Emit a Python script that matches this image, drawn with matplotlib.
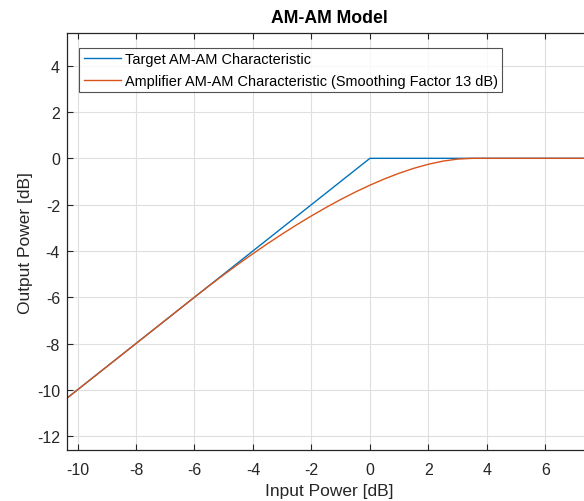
import matplotlib
matplotlib.use("Agg")
import matplotlib.pyplot as plt

# Target AM-AM characteristic (hard limiter at 0 dB)
target_in = [-10.5, 0.0, 8.0]
target_out = [-10.5, 0.0, 0.0]

# Amplifier AM-AM characteristic
amp_in = [-10.5, -6.0, -5.5, -5.0, -4.5, -4.0, -3.5, -3.0, -2.5, -2.0, -1.5,
          -1.0, -0.5, 0.0, 0.5, 1.0, 1.5, 2.0, 2.5, 3.0, 3.5, 4.0, 8.0]
amp_out = [-10.5, -6.0, -5.508, -5.030, -4.567, -4.119, -3.686, -3.269, -2.869,
           -2.487, -2.124, -1.780, -1.458, -1.160, -0.888, -0.644, -0.432,
           -0.256, -0.121, -0.033, 0.0, 0.0, 0.0]

xticks = [-10, -8, -6, -4, -2, 0, 2, 4, 6]
yticks = [-12, -10, -8, -6, -4, -2, 0, 2, 4]

plt.rcParams['font.family'] = ['Liberation Sans', 'DejaVu Sans']

fig = plt.figure(figsize=(5.84, 5.02), dpi=100)
ax = fig.add_axes([67/584, 1-451/502, (591-67)/584, (451-34.3)/502])

c_blue = '#0072BD'
c_orange = '#D95319'
ax.plot(target_in, target_out, color=c_blue, lw=1.0,
        label='Target AM-AM Characteristic')
ax.plot(amp_in, amp_out, color=c_orange, lw=1.0,
        label='Amplifier AM-AM Characteristic (Smoothing Factor 13 dB)')

ax.set_xlim(-10.36, 7.56)
ax.set_ylim(-12.6, 5.4)
ax.set_xticks(xticks)
ax.set_yticks(yticks)
ax.set_xticklabels([str(v) for v in xticks])
ax.set_yticklabels([str(v) for v in yticks])

ax.grid(True, color='#dfdfdf', lw=0.8)
ax.set_axisbelow(True)
for s in ax.spines.values():
    s.set_color('#262626')
    s.set_linewidth(0.9)
ax.tick_params(direction='in', length=4, width=0.8, colors='#262626',
               top=True, right=True, labelsize=11.5)
ax.tick_params(axis='x', pad=9)
ax.tick_params(axis='y', pad=5)

ax.set_title('AM-AM Model', fontsize=12.7, fontweight='bold', color='black', pad=8)
ax.set_xlabel('Input Power [dB]', fontsize=12.5, color='#262626', labelpad=4)
ax.set_ylabel('Output Power [dB]', fontsize=12.5, color='#262626', labelpad=3)

leg = ax.legend(loc='upper left', bbox_to_anchor=(79.3/584, 1-49/502),
                bbox_transform=fig.transFigure, fontsize=10.45,
                frameon=True, fancybox=False, edgecolor='#262626',
                handlelength=2.6, handletextpad=0.25, borderpad=0.3,
                labelspacing=0.5, borderaxespad=0)
leg.get_frame().set_linewidth(0.8)

fig.savefig('out.png', dpi=100)
